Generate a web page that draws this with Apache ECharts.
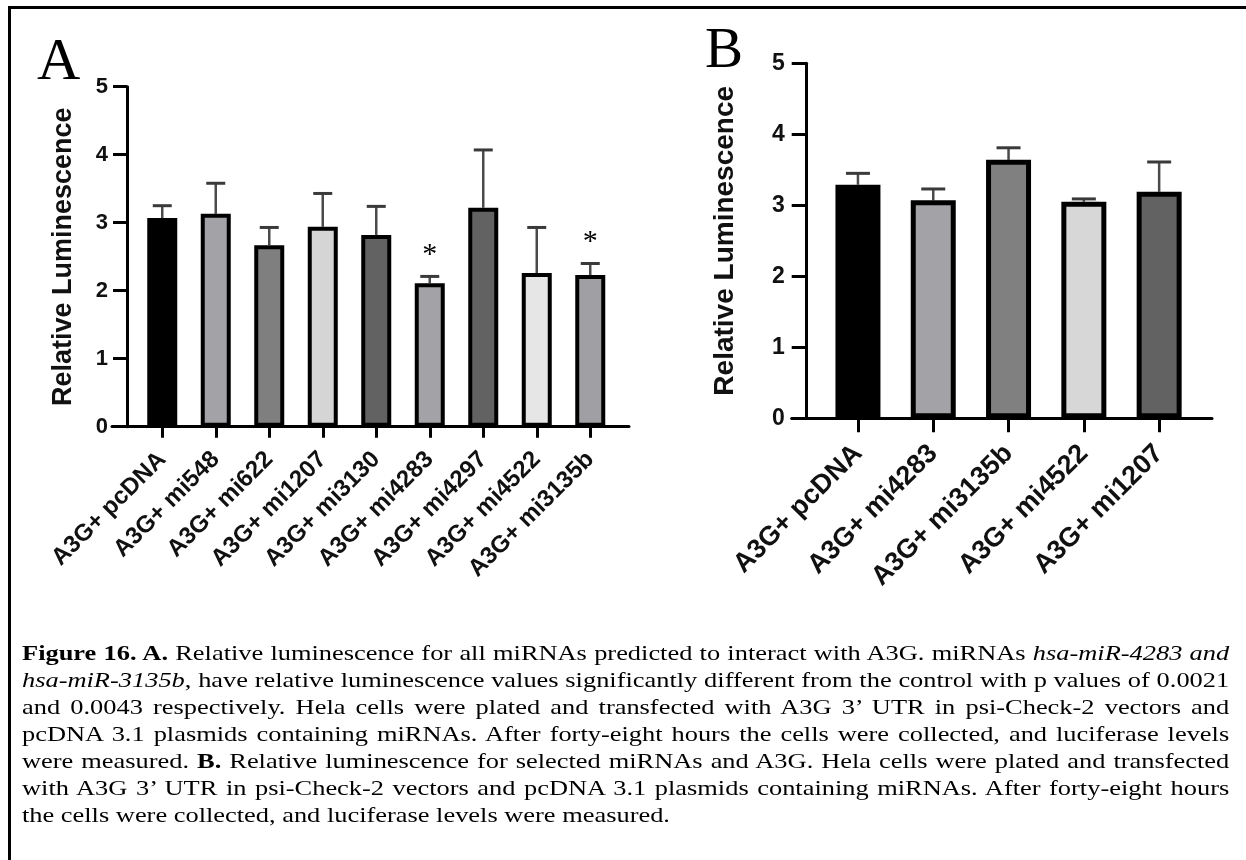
<!DOCTYPE html>
<html>
<head>
<meta charset="utf-8">
<script src="https://cdn.jsdelivr.net/npm/echarts@6/dist/echarts.min.js"></script>
<style>
  html, body { margin: 0; padding: 0; background: #fff; }
  #wrap { position: relative; width: 1246px; height: 860px; overflow: hidden; }
  #chart { position: absolute; left: 0; top: 0; width: 1246px; height: 860px; }
  #frame { position: absolute; left: 8px; top: 6px; width: 1250px; height: 870px;
           border-left: 3px solid #000; border-top: 3px solid #000; }
  /* caption text in the source is wider than it is tall, so stretch it */
  #caption { position: absolute; left: 22px; top: 639px; width: 1006px;
             transform: scaleX(1.2); transform-origin: 0 0;
             font-family: "Liberation Serif", "Times New Roman", serif; font-size: 22px;
             line-height: 27px; color: #000; }
  #caption div { white-space: nowrap; text-align: justify; text-align-last: justify; }
  #caption div.last { text-align-last: left; }
</style>
</head>
<body>
<div id="wrap">
  <div id="frame"></div>
  <div id="chart"></div>
  <div id="caption">
    <div><b>Figure 16. A.</b> Relative luminescence for all miRNAs predicted to interact with A3G. miRNAs <i>hsa-miR-4283 and</i></div>
    <div><i>hsa-miR-3135b</i>, have relative luminescence values significantly different from the control with p values of 0.0021</div>
    <div>and 0.0043 respectively. Hela cells were plated and transfected with A3G 3’ UTR in psi-Check-2 vectors and</div>
    <div>pcDNA 3.1 plasmids containing miRNAs. After forty-eight hours the cells were collected, and luciferase levels</div>
    <div>were measured. <b>B.</b> Relative luminescence for selected miRNAs and A3G. Hela cells were plated and transfected</div>
    <div>with A3G 3’ UTR in psi-Check-2 vectors and pcDNA 3.1 plasmids containing miRNAs. After forty-eight hours</div>
    <div class="last">the cells were collected, and luciferase levels were measured.</div>
  </div>
</div>
<script>
// panel A
var catsA = ['A3G+ pcDNA', 'A3G+ mi548', 'A3G+ mi622', 'A3G+ mi1207', 'A3G+ mi3130',
             'A3G+ mi4283', 'A3G+ mi4297', 'A3G+ mi4522', 'A3G+ mi3135b'];
var meanA = [3.07, 3.13, 2.67, 2.94, 2.82, 2.11, 3.22, 2.26, 2.23];
var errA  = [0.18, 0.45, 0.26, 0.49, 0.42, 0.10, 0.85, 0.67, 0.17];
var sigA  = ['', '', '', '', '', '*', '', '', '*'];

// panel B
var catsB = ['A3G+ pcDNA', 'A3G+ mi4283', 'A3G+ mi3135b', 'A3G+ mi4522', 'A3G+ mi1207'];
var meanB = [3.29, 3.07, 3.64, 3.05, 3.19];
var errB  = [0.16, 0.16, 0.17, 0.04, 0.42];
var sigB  = ['', '', '', '', ''];

var yTicks = [0, 1, 2, 3, 4, 5];

var colorsA = ['#000000', '#a3a3a7', '#7f7f7f', '#d5d5d5', '#626262', '#a3a3a7', '#626262', '#e6e6e6', '#a0a0a4'];
var colorsB = ['#000000', '#a3a3a7', '#808080', '#d7d7d7', '#626262'];

var SANS = '"Liberation Sans", Arial, sans-serif';
var SERIF = '"Liberation Serif", "Times New Roman", serif';

var myChart = echarts.init(document.getElementById('chart'));

function barSeries(means, colors, idx, bw, border) {
  return {
    type: 'bar',
    xAxisIndex: idx, yAxisIndex: idx,
    barWidth: bw,
    z: 3,
    data: means.map(function (v, i) {
      return { value: v, itemStyle: { color: colors[i], borderColor: '#000', borderWidth: border } };
    })
  };
}

// upper error bar (+ significance star) drawn behind each bar
function errSeries(means, errs, sig, idx, capW, starGap) {
  return {
    type: 'custom',
    xAxisIndex: idx, yAxisIndex: idx,
    z: 2,
    data: means.map(function (v, i) { return [i, v, errs[i]]; }),
    renderItem: function (params, api) {
      var x = api.value(0), m = api.value(1), e = api.value(2);
      var p0 = api.coord([x, m]);
      var p1 = api.coord([x, m + e]);
      var kids = [
        { type: 'line', shape: { x1: p0[0], y1: p0[1], x2: p1[0], y2: p1[1] },
          style: { stroke: '#4a4a4a', lineWidth: 2.5 } },
        { type: 'line', shape: { x1: p1[0] - capW / 2, y1: p1[1], x2: p1[0] + capW / 2, y2: p1[1] },
          style: { stroke: '#3a3a3a', lineWidth: 3 } }
      ];
      if (sig[params.dataIndex]) {
        kids.push({ type: 'text', x: p1[0], y: p1[1] - starGap,
          style: { text: sig[params.dataIndex], font: '30px ' + SERIF, fill: '#000',
                   align: 'center', verticalAlign: 'middle' } });
      }
      return { type: 'group', children: kids };
    }
  };
}

function yAx(idx, offset, tickLen, fs, margin, nameFs, nameGap) {
  return {
    gridIndex: idx, type: 'value', min: yTicks[0], max: yTicks[yTicks.length - 1], interval: 1,
    offset: offset,
    axisLine: { show: true, lineStyle: { color: '#000', width: 3 } },
    axisTick: { show: true, length: tickLen, lineStyle: { color: '#000', width: 3 } },
    axisLabel: { fontSize: fs, fontWeight: 'bold', color: '#111', fontFamily: SANS, margin: margin },
    splitLine: { show: false },
    name: 'Relative Luminescence', nameLocation: 'middle', nameGap: nameGap,
    nameTextStyle: { fontSize: nameFs, fontWeight: 'bold', color: '#111', fontFamily: SANS }
  };
}

function xAx(idx, cats, tickLen, fs, margin) {
  return {
    gridIndex: idx, type: 'category', data: cats,
    axisLine: { show: false },
    axisTick: { show: true, alignWithLabel: true, length: tickLen, lineStyle: { color: '#000', width: 3 } },
    axisLabel: { interval: 0, rotate: 45, fontSize: fs, fontWeight: 'bold', color: '#111',
                 fontFamily: SANS, margin: margin },
    splitLine: { show: false }
  };
}

// plain axis line, a bit longer than the bar band
function lineAx(idx) {
  return {
    gridIndex: idx, type: 'value', min: 0, max: 1,
    axisLine: { show: true, onZero: false, lineStyle: { color: '#000', width: 3 } },
    axisTick: { show: false }, axisLabel: { show: false }, splitLine: { show: false }
  };
}

var option = {
  animation: false,
  backgroundColor: 'transparent',
  grid: [
    { left: 135.5, top: 86.7, width: 481.5, height: 340 },
    { left: 820.3, top: 63.3, width: 376.5, height: 355 },
    { left: 112, top: 86.7, width: 517, height: 340 },
    { left: 791.7, top: 63.3, width: 420.3, height: 355 }
  ],
  xAxis: [
    xAx(0, catsA, 11, 24, 29),
    xAx(1, catsB, 14, 27, 31),
    lineAx(2),
    lineAx(3)
  ],
  yAxis: [
    yAx(0, 8.5, 14, 22, 19, 27, 50),
    yAx(1, 13.6, 15, 23, 22, 28, 67),
    { gridIndex: 2, show: false, min: 0, max: 1 },
    { gridIndex: 3, show: false, min: 0, max: 1 }
  ],
  graphic: [
    { type: 'text', left: 37, top: 33, style: { text: 'A', font: '60px ' + SERIF, fill: '#000' } },
    { type: 'text', left: 705, top: 24, style: { text: 'B', font: '57px ' + SERIF, fill: '#000' } }
  ],
  series: [
    barSeries(meanA, colorsA, 0, 30, 4),
    errSeries(meanA, errA, sigA, 0, 19, 21),
    barSeries(meanB, colorsB, 1, 45, 5),
    errSeries(meanB, errB, sigB, 1, 24, 21)
  ]
};

myChart.setOption(option, true);
</script>
</body>
</html>
